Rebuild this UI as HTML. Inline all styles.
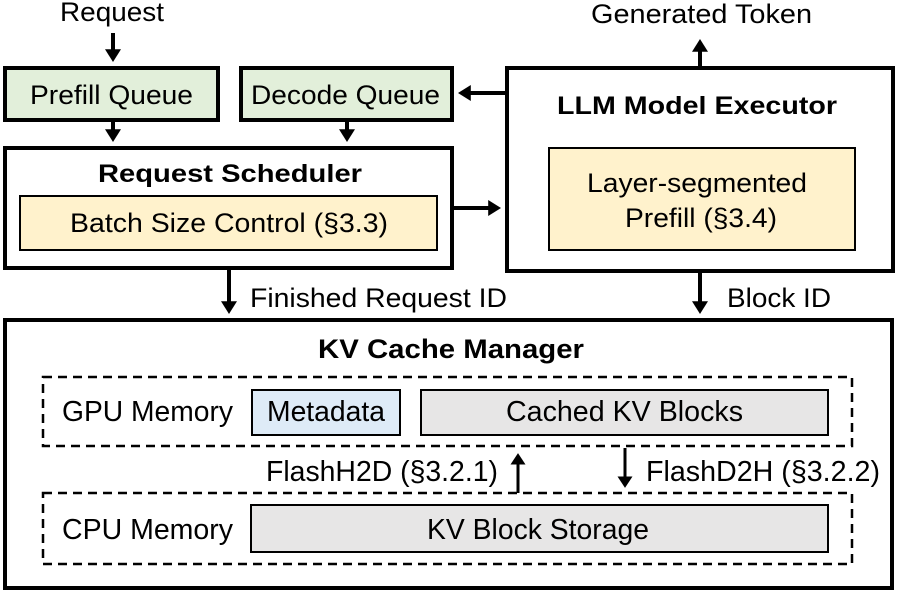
<!DOCTYPE html>
<html><head><meta charset="utf-8"><style>
html,body{margin:0;padding:0;background:#fff;}
svg{display:block;}
text{font-family:"Liberation Sans",Arial,sans-serif;fill:#000;}
.b{font-weight:bold;}
</style></head><body>
<svg width="897" height="594" viewBox="0 0 897 594" xmlns="http://www.w3.org/2000/svg">
<defs>
<marker id="ah" markerWidth="4" markerHeight="4" refX="2.2" refY="2" orient="auto" markerUnits="strokeWidth">
<path d="M0,0 L3.2,2 L0,4 z" fill="#000"/>
</marker>
<marker id="ah2" markerWidth="5" markerHeight="5" refX="2.5" refY="2.5" orient="auto" markerUnits="strokeWidth">
<path d="M0,0 L3.8,2.5 L0,5 z" fill="#000"/>
</marker>
</defs>
<g font-size="27">
<text x="60" y="21" textLength="104" lengthAdjust="spacingAndGlyphs">Request</text>
<text x="591" y="23" textLength="221" lengthAdjust="spacingAndGlyphs">Generated Token</text>

<rect x="5" y="68" width="213" height="52" fill="#e2efda" stroke="#000" stroke-width="4"/>
<text x="30" y="104" textLength="163" lengthAdjust="spacingAndGlyphs">Prefill Queue</text>
<rect x="241" y="68" width="211" height="52" fill="#e2efda" stroke="#000" stroke-width="4"/>
<text x="251" y="104" textLength="189" lengthAdjust="spacingAndGlyphs">Decode Queue</text>

<rect x="5" y="148" width="447" height="120" fill="#fff" stroke="#000" stroke-width="4"/>
<text class="b" x="98" y="182" font-size="25" textLength="264" lengthAdjust="spacingAndGlyphs">Request Scheduler</text>
<rect x="20" y="196" width="417" height="54" fill="#fff2cc" stroke="#000" stroke-width="2"/>
<text x="70" y="232" textLength="318" lengthAdjust="spacingAndGlyphs">Batch Size Control (§3.3)</text>

<rect x="507" y="68" width="386" height="203" fill="#fff" stroke="#000" stroke-width="4"/>
<text class="b" x="557" y="114" font-size="25" textLength="280" lengthAdjust="spacingAndGlyphs">LLM Model Executor</text>
<rect x="549" y="148" width="306" height="102" fill="#fff2cc" stroke="#000" stroke-width="2"/>
<text x="587" y="192" textLength="220" lengthAdjust="spacingAndGlyphs">Layer-segmented</text>
<text x="625" y="227" textLength="152" lengthAdjust="spacingAndGlyphs">Prefill (§3.4)</text>

<g stroke="#000" stroke-width="4" fill="none">
<line x1="113" y1="33" x2="113" y2="58" marker-end="url(#ah)"/>
<line x1="113" y1="122" x2="113" y2="138" marker-end="url(#ah)"/>
<line x1="347" y1="122" x2="347" y2="138" marker-end="url(#ah)"/>
<line x1="505" y1="93" x2="462" y2="93" marker-end="url(#ah)"/>
<line x1="454" y1="208" x2="497" y2="208" marker-end="url(#ah)"/>
<line x1="700" y1="66" x2="700" y2="43" marker-end="url(#ah)"/>
<line x1="229" y1="270" x2="229" y2="310" marker-end="url(#ah)"/>
<line x1="700" y1="273" x2="700" y2="310" marker-end="url(#ah)"/>
</g>
<text x="250" y="307" textLength="257" lengthAdjust="spacingAndGlyphs">Finished Request ID</text>
<text x="727" y="307" textLength="104" lengthAdjust="spacingAndGlyphs">Block ID</text>

<rect x="5" y="320" width="887" height="268" fill="#fff" stroke="#000" stroke-width="4"/>
<text class="b" x="318" y="358" font-size="27" textLength="266" lengthAdjust="spacingAndGlyphs">KV Cache Manager</text>

<rect x="43" y="377" width="809" height="69" fill="none" stroke="#000" stroke-width="2.5" stroke-dasharray="9,6"/>
<text x="62" y="421" font-size="29" textLength="171" lengthAdjust="spacingAndGlyphs">GPU Memory</text>
<rect x="252" y="390" width="148" height="45" fill="#deebf7" stroke="#000" stroke-width="2"/>
<text x="267" y="421" font-size="29" textLength="118" lengthAdjust="spacingAndGlyphs">Metadata</text>
<rect x="421" y="390" width="407" height="45" fill="#e7e6e6" stroke="#000" stroke-width="2"/>
<text x="506" y="421" font-size="29" textLength="237" lengthAdjust="spacingAndGlyphs">Cached KV Blocks</text>

<g stroke="#000" stroke-width="3" fill="none">
<line x1="518" y1="493" x2="518" y2="457" marker-end="url(#ah2)"/>
<line x1="625" y1="448" x2="625" y2="484" marker-end="url(#ah2)"/>
</g>
<text x="266" y="481" font-size="29" textLength="232" lengthAdjust="spacingAndGlyphs">FlashH2D (§3.2.1)</text>
<text x="646" y="481" font-size="29" textLength="234" lengthAdjust="spacingAndGlyphs">FlashD2H (§3.2.2)</text>

<rect x="43" y="493" width="809" height="71" fill="none" stroke="#000" stroke-width="2.5" stroke-dasharray="9,6"/>
<text x="62" y="539" font-size="29" textLength="171" lengthAdjust="spacingAndGlyphs">CPU Memory</text>
<rect x="251" y="505" width="577" height="47" fill="#e7e6e6" stroke="#000" stroke-width="2"/>
<text x="427" y="539" font-size="29" textLength="222" lengthAdjust="spacingAndGlyphs">KV Block Storage</text>
</g>
</svg>
</body></html>
